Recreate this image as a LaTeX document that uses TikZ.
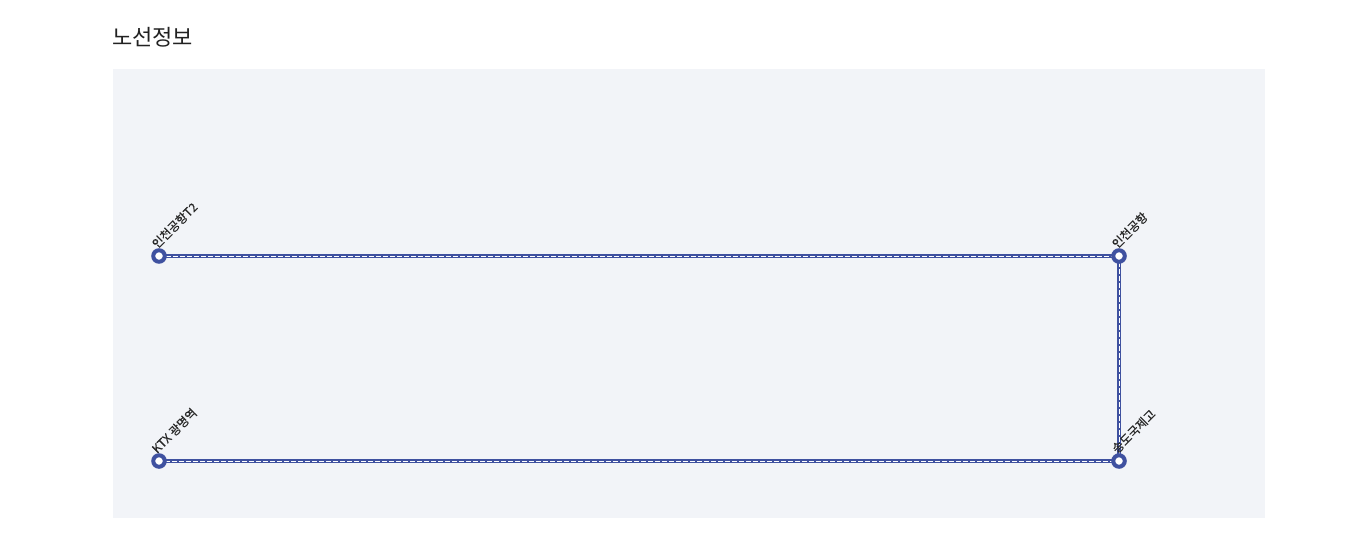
\documentclass[tikz,border=0pt]{standalone}
\usepackage{fontspec}
\newfontfamily\kr{Noto Sans CJK KR}
\newfontfamily\krm{Noto Sans CJK KR}[FakeBold=0.6]
\definecolor{panel}{RGB}{242,244,248}
\definecolor{route}{RGB}{63,81,160}
\definecolor{labeltxt}{RGB}{40,40,40}
\definecolor{titletxt}{RGB}{34,34,34}
\begin{document}
\begin{tikzpicture}[x=1pt,y=-1pt,
  station/.style={circle,draw=route,line width=4pt,fill=white,minimum size=11.5pt,inner sep=0pt},
  stlabel/.style={rotate=45,anchor=south west,inner sep=0pt,font=\krm\fontsize{12}{14}\selectfont,text=labeltxt},
  routeline/.style={draw=route,line width=3.2pt},
  routedash/.style={draw=white,line width=1pt,dash pattern=on 5pt off 2pt}]
\useasboundingbox[fill=white] (0,0) rectangle (1359,550);
\fill[panel] (113,69) rectangle (1265,518);
\node[anchor=west,inner sep=0pt,font=\kr\fontsize{22}{26}\selectfont,text=titletxt] (title) at (112,37) {노선정보};
\coordinate (a) at (159,256);
\coordinate (b) at (1119,256);
\coordinate (c) at (1119,461);
\coordinate (d) at (159,461);
\draw[routeline] (a) -- (b) -- (c) -- (d);
\draw[routedash] (a) -- (b) -- (c) -- (d);
\node[station] (sa) at (a) {};
\node[station] (sb) at (b) {};
\node[station] (sc) at (c) {};
\node[station] (sd) at (d) {};
\node[stlabel] (la) at (158,250) {인천공항T2};
\node[stlabel] (lb) at (1118,250) {인천공항};
\node[stlabel] (lc) at (1118,455) {송도국제고};
\node[stlabel] (ld) at (158,455) {KTX 광명역};
\end{tikzpicture}
\end{document}
